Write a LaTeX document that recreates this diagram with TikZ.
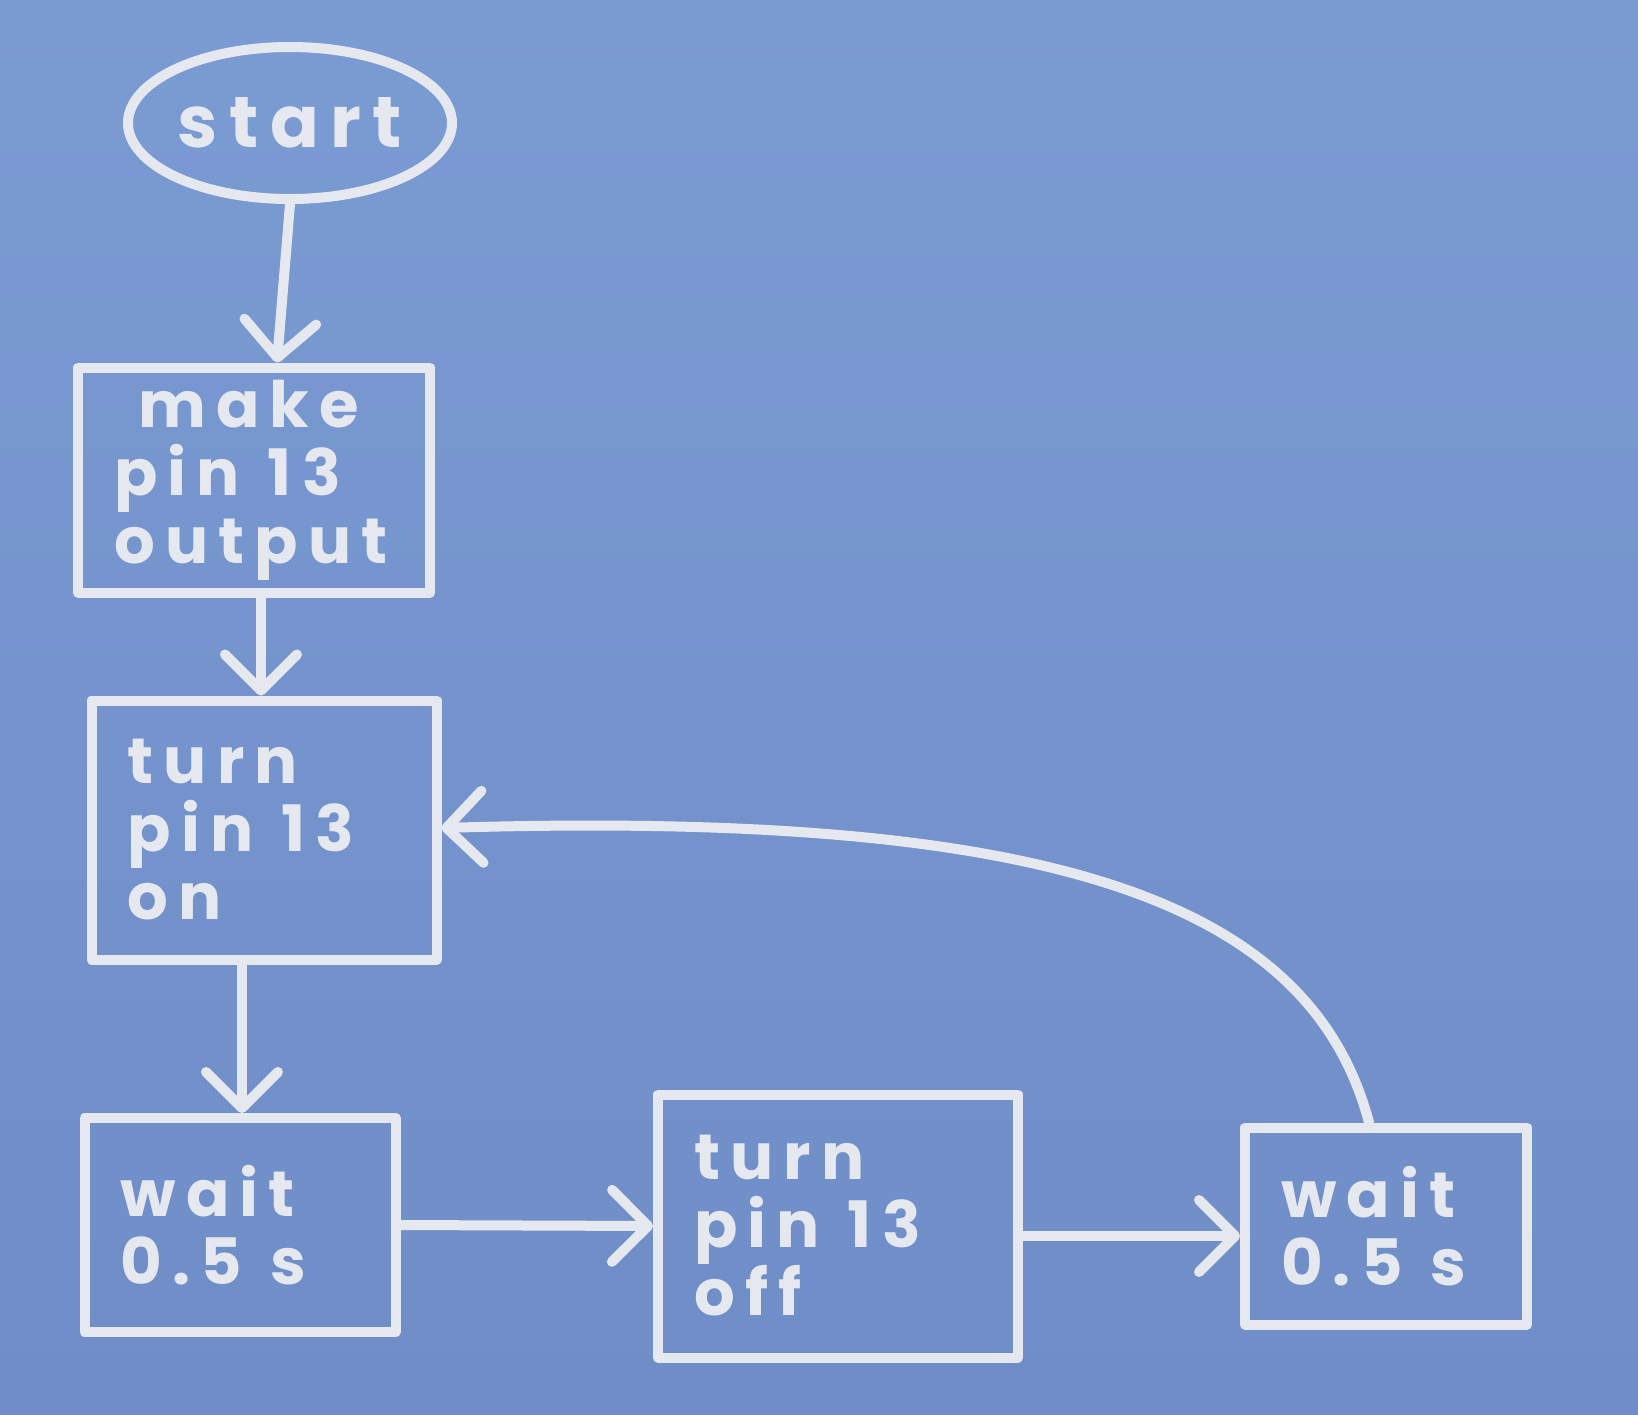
\documentclass[tikz,border=0pt]{standalone}
\usepackage{fontspec}
\newfontfamily\hand[LetterSpace=16]{Poppins}
\usetikzlibrary{arrows.meta,shapes.geometric}
\definecolor{board}{HTML}{7B9BD3}
\definecolor{boardlow}{HTML}{6F8DC7}
\definecolor{chalk}{HTML}{E6E8F0}
\newcommand{\gap}{\hspace{14pt}}
\begin{document}
\begin{tikzpicture}[x=0.5pt,y=-0.5pt,
  chalkline/.style={draw=chalk,line width=5pt,line join=round,line cap=round},
  stepbox/.style={chalkline,rectangle,text=chalk,font=\hand\bfseries\fontsize{32}{34}\selectfont,align=left,inner xsep=18pt,inner ysep=0pt},
  flow/.style={chalkline,-{Straight Barb[length=18pt,width=36pt,line width=5pt,round]}}]
\shade[top color=board,bottom color=boardlow] (0,0) rectangle (1638,1414);
\useasboundingbox (0,0) rectangle (1638,1414);

\node[chalkline,ellipse,minimum width=162pt,minimum height=76pt,inner sep=0pt,text=chalk,font=\hand\bfseries\fontsize{36}{40}\selectfont] (start) at (290,123) {start};

\node[stepbox,text width=140pt,minimum height=112.5pt] (make) at (254,480) {\hspace*{12pt}make\\pin\gap 13\\output};
\node[stepbox,text width=136.5pt,minimum height=129.5pt] (on) at (264,830) {turn\\pin\gap 13\\on};
\node[stepbox,text width=119.5pt,minimum height=107pt] (wait1) at (240,1225) {wait\\0.5\gap s};
\node[stepbox,text width=144pt,minimum height=131.5pt] (off) at (838,1226) {turn\\pin\gap 13\\off};
\node[stepbox,text width=105pt,minimum height=98.5pt] (wait2) at (1386,1226) {wait\\0.5\gap s};

\draw[flow] (start.south) -- ([xshift=11.5pt]make.north);
\draw[flow] ([xshift=3.5pt]make.south) -- ([xshift=-1.5pt]on.north);
\draw[flow] ([xshift=-11pt]on.south) -- ([xshift=1pt]wait1.north);
\draw[flow] (wait1.east) -- (off.west);
\draw[flow] ([yshift=-5pt]off.east) -- ([yshift=-5pt]wait2.west);
\draw[flow] ([xshift=-8.5pt]wait2.north) .. controls (1310,900) and (1050,810) .. ([yshift=1pt]on.east);
\end{tikzpicture}
\end{document}
